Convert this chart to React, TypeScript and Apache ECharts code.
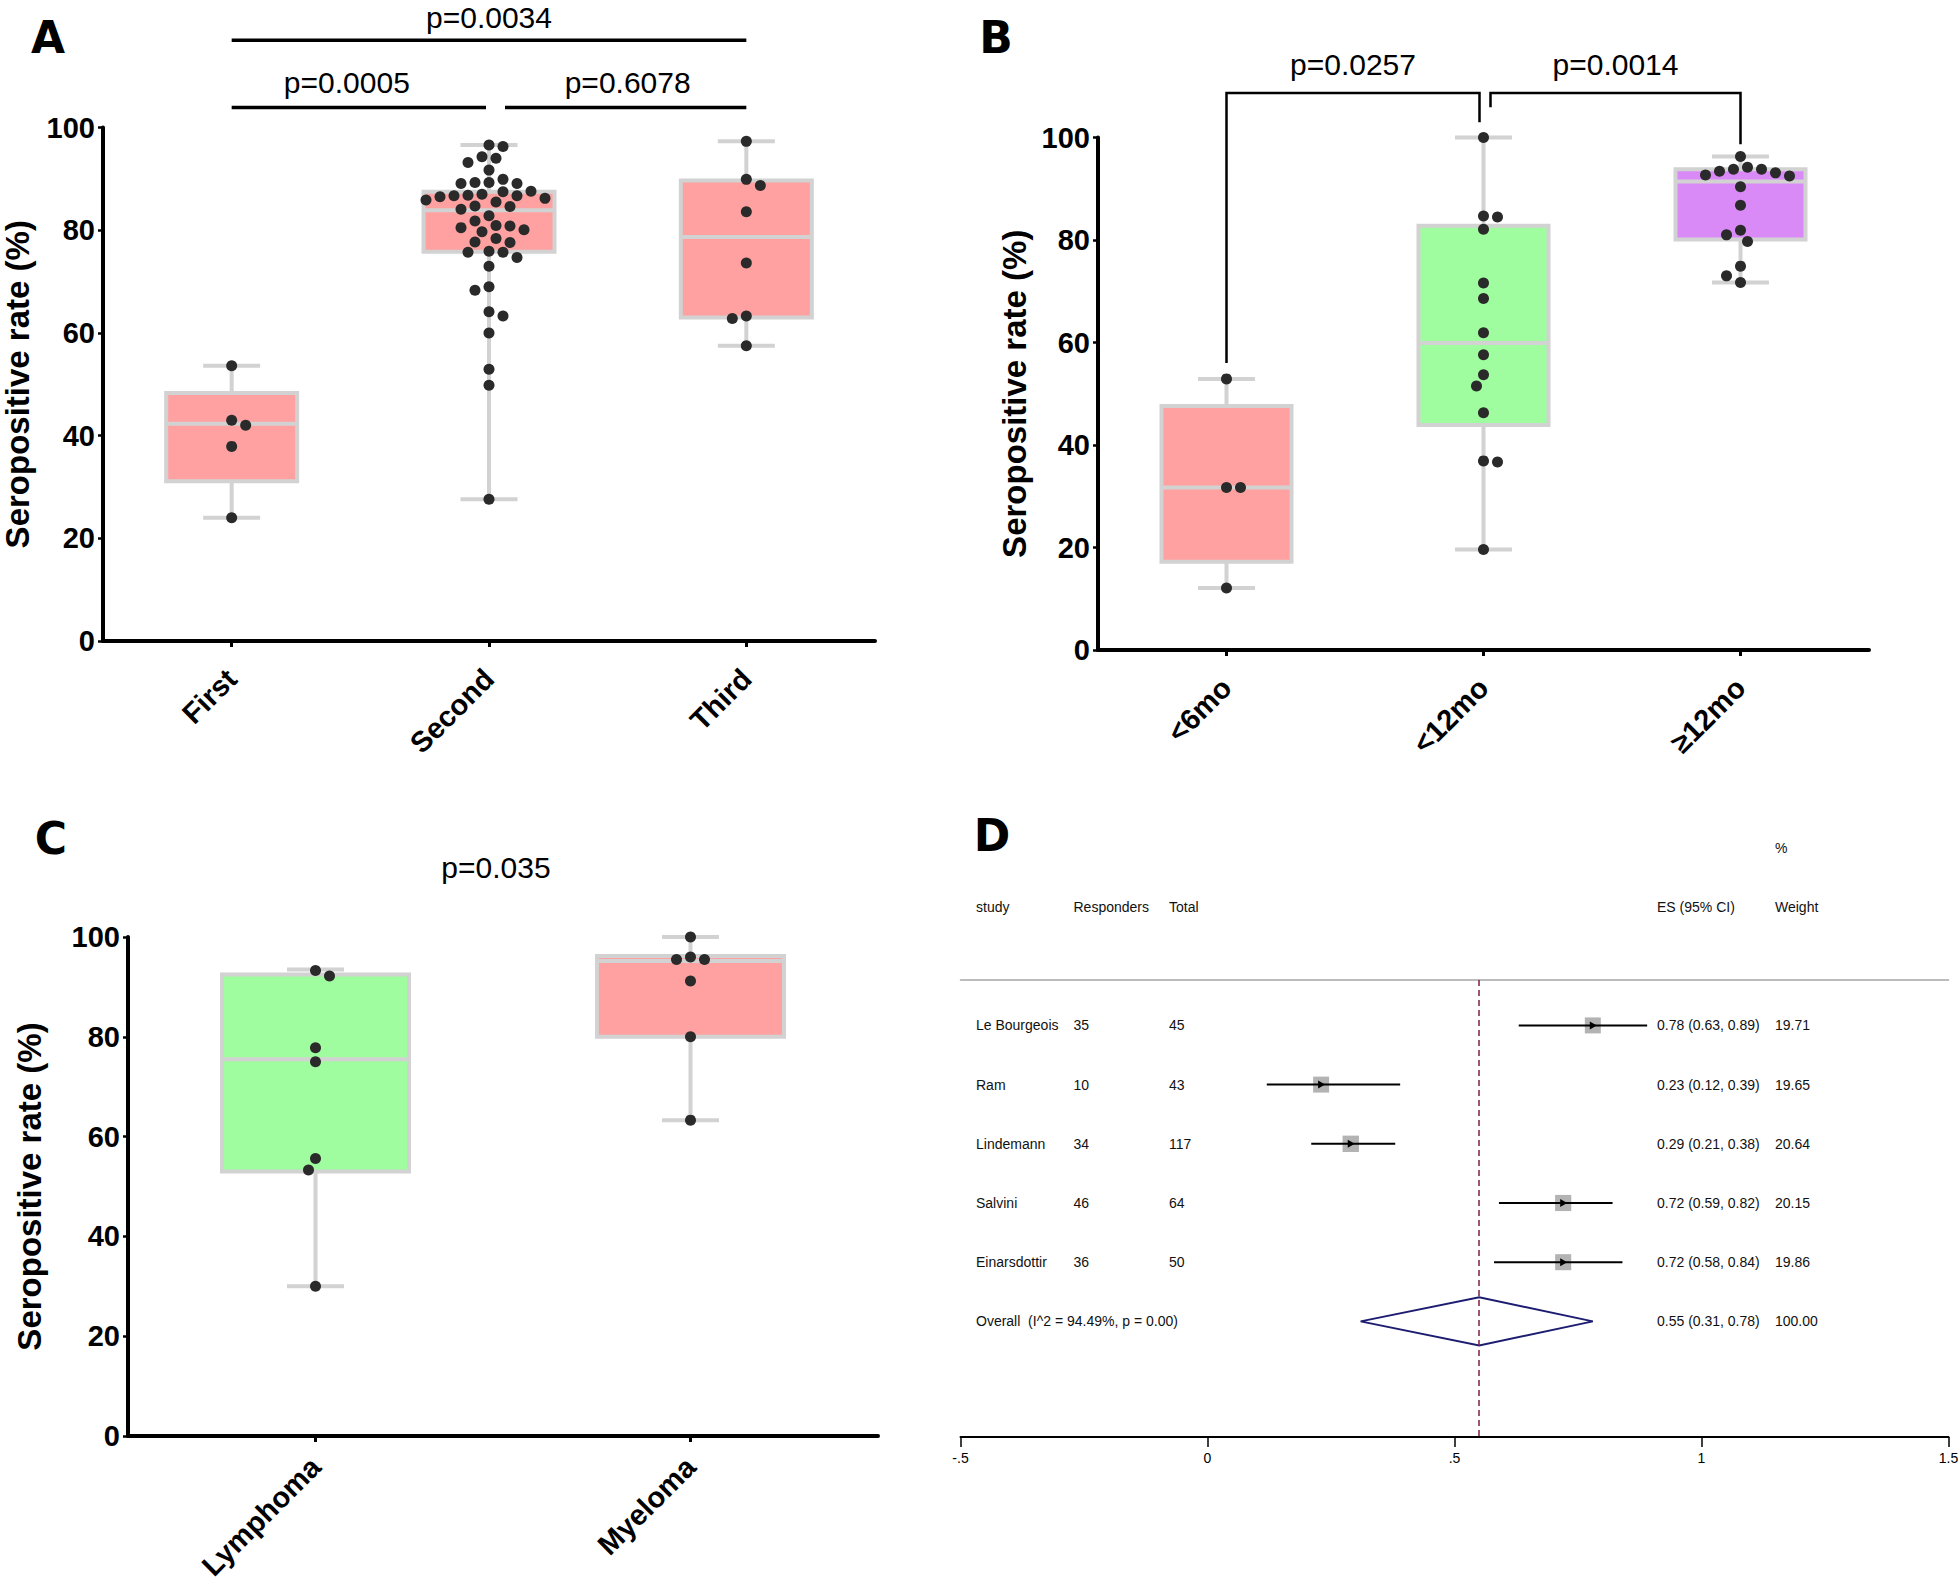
import React, { useEffect, useRef } from "react";
import * as echarts from "echarts";

// ---------------- Panel A ----------------
const catsA = ["First", "Second", "Third"];
// [low whisker, Q1, median, Q3, high whisker]
const boxA = [
  [24.0, 31.1, 42.3, 48.3, 53.6],
  [27.6, 75.8, 83.9, 87.5, 96.6],
  [57.5, 63.0, 78.7, 89.7, 97.3],
];
const pointsAFirst = [53.6, 43.0, 42.0, 37.9, 24.0];
const pointsASecond = [
  96.6, 96.3, 94.3, 94.0, 93.2, 91.7, 89.9, 89.3, 89.3, 89.1, 89.1, 87.6, 87.5, 87.0, 86.8, 86.7,
  86.7, 86.5, 86.2, 85.9, 85.5, 84.7, 84.6, 84.1, 82.8, 81.8, 80.9, 80.8, 80.5, 80.1, 79.7, 78.4,
  77.7, 77.6, 75.9, 75.7, 75.7, 74.7, 73.0, 69.0, 68.3, 64.1, 63.3, 60.0, 52.9, 49.8, 27.6,
];
const pointsAThird = [97.3, 89.9, 88.7, 83.6, 73.6, 63.3, 62.8, 57.5];
const pLabelsA = ["p=0.0034", "p=0.0005", "p=0.6078"];
const pPairsA = [
  [0, 2],
  [0, 1],
  [1, 2],
];

// ---------------- Panel B ----------------
const catsB = ["<6mo", "<12mo", "≥12mo"];
const boxB = [
  [12.1, 17.2, 31.7, 47.6, 52.9],
  [19.6, 43.9, 59.9, 82.8, 100],
  [71.7, 80.1, 91.4, 93.8, 96.3],
];
const pointsB6 = [52.9, 31.7, 31.7, 12.1];
const pointsB12 = [100, 84.7, 84.5, 82.1, 71.6, 68.6, 61.9, 57.6, 53.7, 51.5, 46.3, 36.9, 36.7, 19.6];
const pointsBOver = [96.3, 94.2, 93.8, 93.8, 93.4, 93.1, 92.7, 92.5, 90.4, 86.8, 81.9, 81.0, 79.7, 74.9, 73.0, 71.7];
const pLabelsB = ["p=0.0257", "p=0.0014"];
const pPairsB = [
  [0, 1],
  [1, 2],
];

// ---------------- Panel C ----------------
const catsC = ["Lymphoma", "Myeloma"];
const boxC = [
  [30.0, 53.0, 75.5, 92.5, 93.5],
  [63.3, 80.0, 95.2, 96.2, 100],
];
const pointsCL = [93.3, 92.2, 77.8, 75.0, 55.6, 53.3, 30.0];
const pointsCM = [100, 96.0, 95.5, 95.5, 91.2, 80.0, 63.3];
const pLabelC = "p=0.035";

// ---------------- Panel D ----------------
const studies = ["Le Bourgeois", "Ram", "Lindemann", "Salvini", "Einarsdottir"];
const responders = [35, 10, 34, 46, 36];
const totals = [45, 43, 117, 64, 50];
const esVals = [0.78, 0.23, 0.29, 0.72, 0.72];
const ciLow = [0.63, 0.12, 0.21, 0.59, 0.58];
const ciHigh = [0.89, 0.39, 0.38, 0.82, 0.84];
const weights = [19.71, 19.65, 20.64, 20.15, 19.86];
const overallEs = 0.55;
const overallLo = 0.31;
const overallHi = 0.78;
const overallWeight = 100.0;
const overallLabel = "Overall  (I^2 = 94.49%, p = 0.00)";
const headerCells = ["study", "Responders", "Total", "ES (95% CI)", "Weight"];

// ---------------- styles / layout ----------------
const FONT = "'Liberation Sans', Arial, sans-serif";
const BOX_STROKE = "#d2d2d2";
const DOT_COLOR = "#2a2a2a";
const DOT_R = 5.5;
const SWARM_STEP = 7;
const SWARM_MIN = 12;
const CAP_W = 57;

function layoutSwarm(coords: number[][], groups: number[]) {
  const placed: { g: number; x: number; y: number }[] = [];
  const out: number[][] = [];
  const flip: Record<number, number> = {};
  coords.forEach(([x, y], i) => {
    const g = groups[i];
    if (flip[g] === undefined) flip[g] = 1;
    let off = 0;
    for (let n = 0; n < 60; n++) {
      const k = n === 0 ? 0 : Math.ceil(n / 2) * (n % 2 === 1 ? flip[g] : -flip[g]);
      const cx = x + k * SWARM_STEP;
      const ok = placed.every((p) => p.g !== g || Math.hypot(p.x - cx, p.y - y) >= SWARM_MIN);
      if (ok) {
        off = k * SWARM_STEP;
        if (k !== 0) flip[g] = -flip[g];
        break;
      }
    }
    placed.push({ g, x: x + off, y });
    out.push([x + off, y]);
  });
  return out;
}

function swarmSeries(idx: number, groups: number[][]) {
  const pts = groups.flatMap((vals, ci) => vals.map((v) => [ci, v]));
  let cache: number[][] | null = null;
  return {
    type: "custom",
    xAxisIndex: idx,
    yAxisIndex: idx,
    silent: true,
    z: 5,
    data: pts,
    encode: { x: 0, y: 1 },
    renderItem: (params: any, api: any) => {
      if (!cache || params.dataIndex === 0) {
        cache = layoutSwarm(
          pts.map((p) => api.coord(p)),
          pts.map((p) => p[0])
        );
      }
      const [cx, cy] = cache[params.dataIndex];
      return { type: "circle", shape: { cx, cy, r: DOT_R }, style: { fill: DOT_COLOR } };
    },
  };
}

function boxSeries(idx: number, boxes: number[][], colors: string[], boxW: number) {
  return {
    type: "custom",
    xAxisIndex: idx,
    yAxisIndex: idx,
    silent: true,
    z: 2,
    data: boxes.map((b, i) => [i, ...b]),
    encode: { x: 0, y: [1, 2, 3, 4, 5] },
    renderItem: (params: any, api: any) => {
      const c = api.value(0);
      const [x, yLow] = api.coord([c, api.value(1)]);
      const yQ1 = api.coord([c, api.value(2)])[1];
      const yMed = api.coord([c, api.value(3)])[1];
      const yQ3 = api.coord([c, api.value(4)])[1];
      const yHigh = api.coord([c, api.value(5)])[1];
      const st = { stroke: BOX_STROKE, lineWidth: 4 };
      return {
        type: "group",
        children: [
          { type: "line", shape: { x1: x, y1: yLow, x2: x, y2: yHigh }, style: st },
          { type: "line", shape: { x1: x - CAP_W / 2, y1: yLow, x2: x + CAP_W / 2, y2: yLow }, style: st },
          { type: "line", shape: { x1: x - CAP_W / 2, y1: yHigh, x2: x + CAP_W / 2, y2: yHigh }, style: st },
          {
            type: "rect",
            shape: { x: x - boxW / 2, y: yQ3, width: boxW, height: yQ1 - yQ3 },
            style: { fill: colors[params.dataIndex], stroke: BOX_STROKE, lineWidth: 4 },
          },
          { type: "line", shape: { x1: x - boxW / 2, y1: yMed, x2: x + boxW / 2, y2: yMed }, style: st },
        ],
      };
    },
  };
}

function pText(x: number, y: number, text: string) {
  return {
    type: "text",
    x,
    y,
    style: { text, fill: "#000", fontSize: 30, fontFamily: FONT, align: "center", verticalAlign: "middle" },
  };
}

// bracket levels (value units, above the 0–100 scale)
const A_LINE_LEVELS = [117.0, 103.9, 103.9];
const A_TEXT_LEVELS = [121.4, 108.8, 108.8];
const A_TEXT_DX = [0, -12, 2];
const A_GAPS = [
  [0, 0],
  [0, -3],
  [16, 0],
];
const B_LINE_LEVEL = 108.7;
const B_TEXT_LEVEL = 114.2;
const B_LEG_ENDS = [
  [56.0, 103.0],
  [105.9, 98.7],
];
const B_GAPS = [
  [0, -4],
  [7, 0],
];
const C_TEXT_LEVEL = 114;

function catAxis(gridIndex: number, data: string[], margin: number) {
  return {
    gridIndex,
    type: "category",
    data,
    boundaryGap: true,
    axisLine: { show: true, onZero: false, lineStyle: { color: "#000", width: 4 } },
    axisTick: { show: true, alignWithLabel: true, length: 6, lineStyle: { color: "#000", width: 3 } },
    axisLabel: { rotate: 45, interval: 0, fontSize: 29, fontWeight: "bold", color: "#000", margin, fontFamily: FONT },
    splitLine: { show: false },
  };
}

function rateAxis(gridIndex: number, nameGap: number) {
  return {
    gridIndex,
    type: "value",
    min: 0,
    max: 100,
    interval: 20,
    name: "Seropositive rate (%)",
    nameLocation: "middle",
    nameGap,
    nameRotate: 90,
    nameTextStyle: { fontSize: 33, fontWeight: "bold", color: "#000", fontFamily: FONT },
    axisLine: { show: true, lineStyle: { color: "#000", width: 4 } },
    axisTick: { show: true, length: 5, lineStyle: { color: "#000", width: 2.5 } },
    axisLabel: { fontSize: 29, fontWeight: "bold", color: "#000", margin: 8, fontFamily: FONT },
    splitLine: { show: false },
  };
}

const D_COLS = [976, 1073.5, 1169, 1657, 1775];

export default function App() {
  const ref = useRef<HTMLDivElement>(null);
  useEffect(() => {
    if (!ref.current) return;
    const chart = echarts.init(ref.current, null, { renderer: "svg" });

    const tableRows: { row: number; cells: (string | null)[] }[] = [
      { row: -3, cells: [null, null, null, null, "%"] },
      { row: -2, cells: headerCells },
      ...studies.map((s, i) => ({
        row: i,
        cells: [
          s,
          String(responders[i]),
          String(totals[i]),
          `${esVals[i].toFixed(2)} (${ciLow[i].toFixed(2)}, ${ciHigh[i].toFixed(2)})`,
          weights[i].toFixed(2),
        ],
      })),
      {
        row: studies.length,
        cells: [
          overallLabel,
          null,
          null,
          `${overallEs.toFixed(2)} (${overallLo.toFixed(2)}, ${overallHi.toFixed(2)})`,
          overallWeight.toFixed(2),
        ],
      },
    ];

    const letter = (text: string, x: number, y: number) => ({
      type: "text",
      x,
      y,
      style: {
        text,
        fontSize: 44,
        fontWeight: 900,
        fontFamily: "'DejaVu Sans', sans-serif",
        fill: "#000",
        align: "center",
        verticalAlign: "middle",
      },
    });

    const option: any = {
      animation: false,
      backgroundColor: "#fff",
      grid: [
        { left: 103, top: 127.5, width: 772, height: 513.5, containLabel: false, outerBoundsMode: "none" },
        { left: 1098, top: 137.5, width: 771, height: 512.5, containLabel: false, outerBoundsMode: "none" },
        { left: 128, top: 937, width: 750, height: 499, containLabel: false, outerBoundsMode: "none" },
        { left: 960.5, top: 980, width: 988, height: 457, containLabel: false, outerBoundsMode: "none" },
      ],
      xAxis: [
        catAxis(0, catsA, 33),
        catAxis(1, catsB, 33),
        catAxis(2, catsC, 26),
        {
          gridIndex: 3,
          type: "value",
          min: -0.5,
          max: 1.5,
          interval: 0.5,
          axisLine: { show: true, onZero: false, lineStyle: { color: "#000", width: 2 } },
          axisTick: { show: true, length: 10, lineStyle: { color: "#000", width: 1.5 } },
          axisLabel: {
            fontSize: 14,
            color: "#000",
            margin: 14,
            fontFamily: FONT,
            formatter: (v: number) => (v === -0.5 ? "-.5" : v === 0.5 ? ".5" : String(v)),
          },
          splitLine: { show: false },
        },
        {
          gridIndex: 3,
          type: "value",
          position: "top",
          min: -0.5,
          max: 1.5,
          axisLine: { show: true, onZero: false, lineStyle: { color: "#a6a6a6", width: 1.5 } },
          axisTick: { show: false },
          axisLabel: { show: false },
          splitLine: { show: false },
        },
      ],
      yAxis: [
        rateAxis(0, 69),
        rateAxis(1, 67),
        rateAxis(2, 82),
        { gridIndex: 3, type: "value", min: -0.767, max: 6.953, inverse: true, show: false },
      ],
      graphic: [letter("A", 48, 37), letter("B", 996, 37), letter("C", 51, 838), letter("D", 992, 835)],
      series: [
        boxSeries(0, boxA, ["#ffa1a1", "#ffa1a1", "#ffa1a1"], 131),
        swarmSeries(0, [pointsAFirst, pointsASecond, pointsAThird]),
        boxSeries(1, boxB, ["#ffa1a1", "#9ffd9f", "#da8af6"], 130),
        swarmSeries(1, [pointsB6, pointsB12, pointsBOver]),
        boxSeries(2, boxC, ["#9ffd9f", "#ffa1a1"], 187),
        swarmSeries(2, [pointsCL, pointsCM]),
        // A brackets
        {
          type: "custom",
          xAxisIndex: 0,
          yAxisIndex: 0,
          silent: true,
          data: pPairsA.map((p) => [p[0], p[1]]),
          renderItem: (params: any, api: any) => {
            const i = params.dataIndex;
            const [a, b] = pPairsA[i];
            const x1 = api.coord([a, 100])[0] + A_GAPS[i][0];
            const x2 = api.coord([b, 100])[0] + A_GAPS[i][1];
            const y = api.coord([a, A_LINE_LEVELS[i]])[1];
            const ty = api.coord([a, A_TEXT_LEVELS[i]])[1];
            return {
              type: "group",
              children: [
                { type: "line", shape: { x1, y1: y, x2, y2: y }, style: { stroke: "#000", lineWidth: 3.5 } },
                pText((x1 + x2) / 2 + A_TEXT_DX[i], ty, pLabelsA[i]),
              ],
            };
          },
        },
        // B brackets
        {
          type: "custom",
          xAxisIndex: 1,
          yAxisIndex: 1,
          silent: true,
          data: pPairsB.map((p) => [p[0], p[1]]),
          renderItem: (params: any, api: any) => {
            const i = params.dataIndex;
            const [a, b] = pPairsB[i];
            const x1 = api.coord([a, 100])[0] + B_GAPS[i][0];
            const x2 = api.coord([b, 100])[0] + B_GAPS[i][1];
            const y = api.coord([a, B_LINE_LEVEL])[1];
            const ty = api.coord([a, B_TEXT_LEVEL])[1];
            const yl = api.coord([a, B_LEG_ENDS[i][0]])[1];
            const yr = api.coord([a, B_LEG_ENDS[i][1]])[1];
            return {
              type: "group",
              children: [
                {
                  type: "polyline",
                  shape: { points: [[x1, yl], [x1, y], [x2, y], [x2, yr]] },
                  style: { stroke: "#000", lineWidth: 2.5, fill: "none" },
                },
                pText((x1 + x2) / 2, ty, pLabelsB[i]),
              ],
            };
          },
        },
        // C p-value
        {
          type: "custom",
          xAxisIndex: 2,
          yAxisIndex: 2,
          silent: true,
          data: [[0, 1]],
          renderItem: (params: any, api: any) => {
            const xa = api.coord([0, 100])[0];
            const xb = api.coord([1, 100])[0];
            const ty = api.coord([0, C_TEXT_LEVEL])[1];
            return pText((xa + xb) / 2 - 7, ty, pLabelC);
          },
        },
        // D forest rows
        {
          type: "custom",
          xAxisIndex: 3,
          yAxisIndex: 3,
          silent: true,
          z: 4,
          data: studies.map((s, i) => [esVals[i], i, ciLow[i], ciHigh[i], weights[i]]),
          encode: { x: [0, 2, 3], y: 1 },
          renderItem: (params: any, api: any) => {
            const row = api.value(1);
            const [cx, cy] = api.coord([api.value(0), row]);
            const xl = api.coord([api.value(2), row])[0];
            const xh = api.coord([api.value(3), row])[0];
            const side = 3.6 * Math.sqrt(api.value(4));
            return {
              type: "group",
              children: [
                { type: "rect", shape: { x: cx - side / 2, y: cy - side / 2, width: side, height: side }, style: { fill: "#b3b3b3" } },
                { type: "line", shape: { x1: xl, y1: cy, x2: xh, y2: cy }, style: { stroke: "#000", lineWidth: 2 } },
                { type: "polygon", shape: { points: [[cx - 3, cy - 4], [cx + 4, cy], [cx - 3, cy + 4]] }, style: { fill: "#000" } },
              ],
            };
          },
        },
        // D overall diamond + null line
        {
          type: "custom",
          xAxisIndex: 3,
          yAxisIndex: 3,
          silent: true,
          z: 3,
          data: [[overallEs, studies.length, overallLo, overallHi]],
          encode: { x: [0, 2, 3], y: 1 },
          renderItem: (params: any, api: any) => {
            const row = api.value(1);
            const [cx, cy] = api.coord([api.value(0), row]);
            const xl = api.coord([api.value(2), row])[0];
            const xh = api.coord([api.value(3), row])[0];
            const h = 24;
            return {
              type: "polygon",
              shape: { points: [[xl, cy], [cx, cy - h], [xh, cy], [cx, cy + h]] },
              style: { fill: "rgba(255,255,255,0)", stroke: "#1c1c70", lineWidth: 2 },
            };
          },
          markLine: {
            silent: true,
            symbol: "none",
            label: { show: false },
            lineStyle: { color: "#7e1f40", type: [6, 4], width: 1.5 },
            data: [{ xAxis: overallEs }],
            z: 6,
          },
        },
        // D table text
        {
          type: "custom",
          xAxisIndex: 3,
          yAxisIndex: 3,
          silent: true,
          data: tableRows.map((r) => [0, r.row]),
          encode: { x: 0, y: 1 },
          renderItem: (params: any, api: any) => {
            const r = tableRows[params.dataIndex];
            const y = api.coord([0, r.row])[1];
            const children: any[] = [];
            r.cells.forEach((t, ci) => {
              if (t === null) return;
              children.push({
                type: "text",
                x: D_COLS[ci],
                y,
                style: { text: t, fill: "#111", fontSize: 14, fontFamily: FONT, align: "left", verticalAlign: "middle" },
              });
            });
            return { type: "group", children };
          },
        },
      ],
    };
    chart.setOption(option);
    return () => chart.dispose();
  }, []);

  return (
    <div
      ref={ref}
      style={{ position: "absolute", left: 0, top: 0, width: 1960, height: 1582, background: "#fff" }}
    />
  );
}
